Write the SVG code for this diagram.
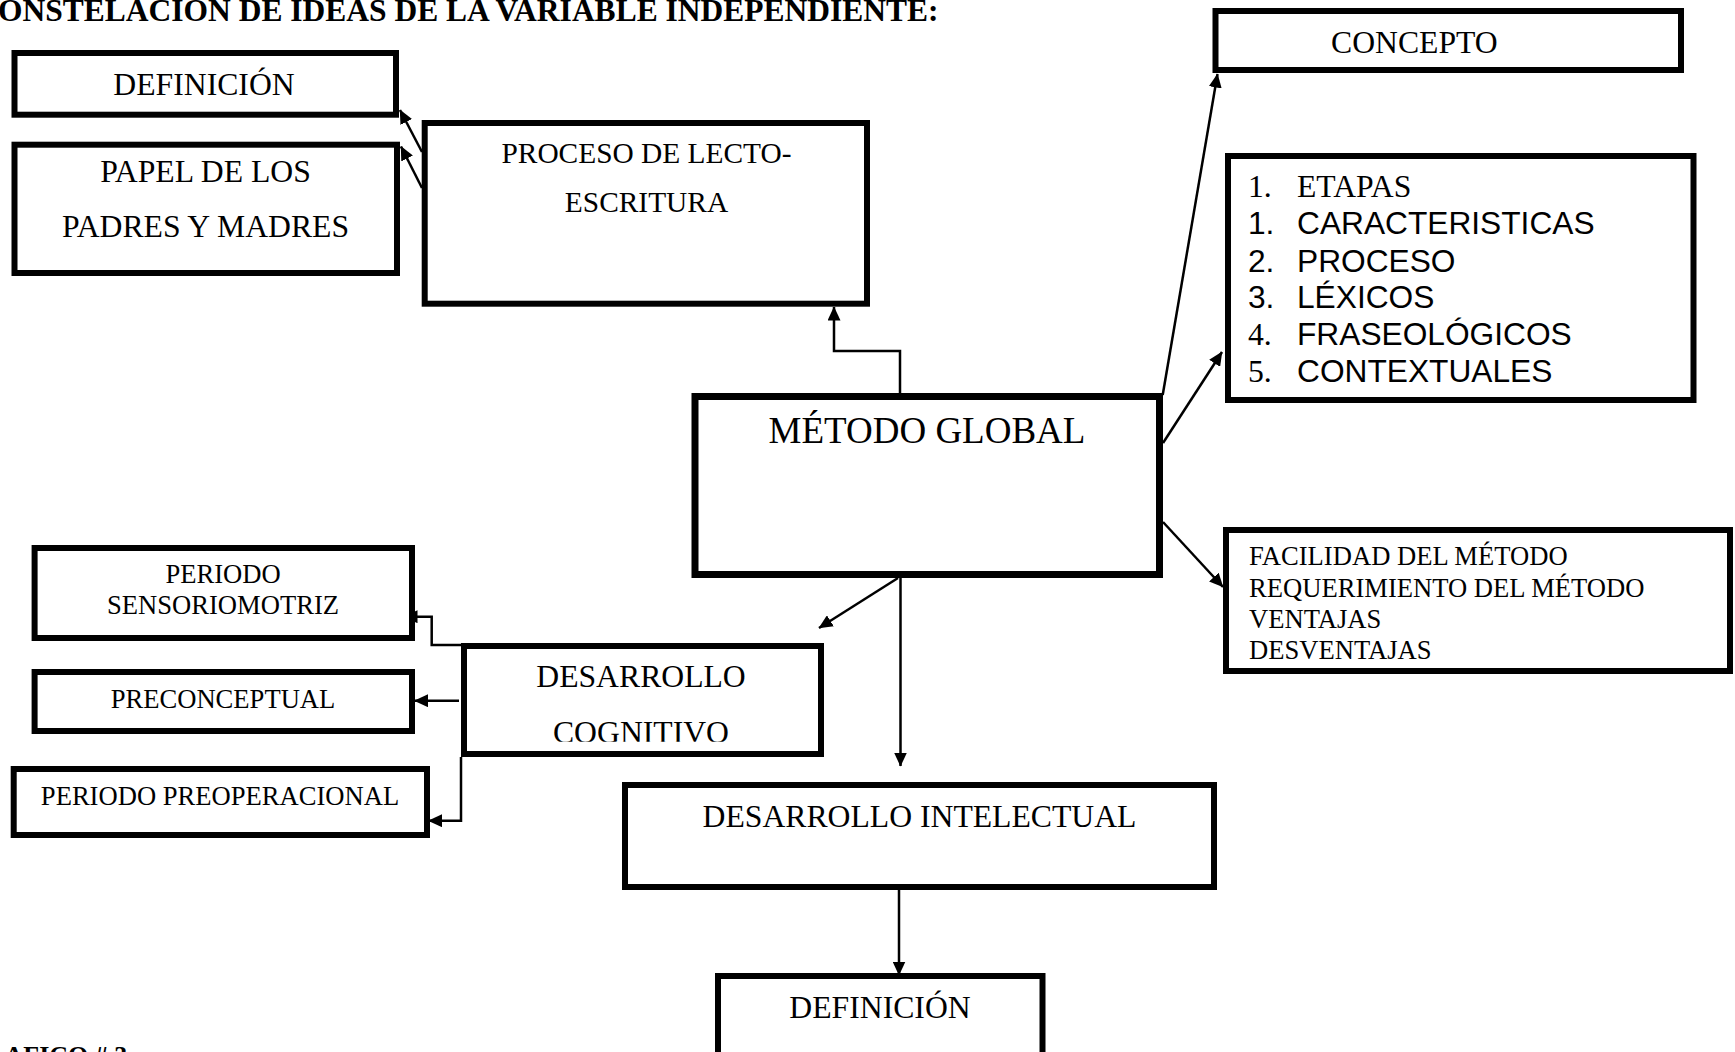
<svg xmlns="http://www.w3.org/2000/svg" width="1735" height="1052" viewBox="0 0 1735 1052">
<style>
.box{fill:#fff;stroke:#000;stroke-width:6}
.t{font-family:"Liberation Serif","Times New Roman",serif;fill:#000}
.s{font-family:"Liberation Sans",Arial,sans-serif;fill:#000}
.big{font-size:31.7px}
.mid{font-size:29.4px}
.sm{font-size:26.6px}
.c{text-anchor:middle}
.b{font-weight:bold}
.con{fill:none;stroke:#000;stroke-width:2.5}
</style>
<defs>
<marker id="ah" markerUnits="userSpaceOnUse" viewBox="0 0 14 13" refX="13.5" refY="6.5" markerWidth="14" markerHeight="13" orient="auto">
<path d="M0,0 L14,6.5 L0,13 z" fill="#000"/>
</marker>
<clipPath id="clipDC"><rect x="464" y="646" width="357" height="95.7"/></clipPath>
</defs>
<rect x="0" y="0" width="1735" height="1052" fill="#fff"/>

<text class="t b" x="-2" y="21" font-size="31.5">ONSTELACION DE IDEAS DE LA VARIABLE INDEPENDIENTE:</text>
<text class="t b" x="4.5" y="1064" font-size="26">AFICO # 3</text>

<g id="connectors">
<path class="con" d="M422,152 L400,110" marker-end="url(#ah)"/>
<path class="con" d="M422,188 L401,146.5" marker-end="url(#ah)"/>
<path class="con" d="M900,393 V351 H834 V307" marker-end="url(#ah)"/>
<path class="con" d="M1162.7,395 L1217.5,74" marker-end="url(#ah)"/>
<path class="con" d="M1163,443 L1222,352" marker-end="url(#ah)"/>
<path class="con" d="M1163,522 L1223,587" marker-end="url(#ah)"/>
<path class="con" d="M898,578 L819,628" marker-end="url(#ah)"/>
<path class="con" d="M900.5,578 V766" marker-end="url(#ah)"/>
<path class="con" d="M899,890 V975" marker-end="url(#ah)"/>
<path class="con" d="M461,645 H431.7 V616.7 H404" marker-end="url(#ah)"/>
<path class="con" d="M459,700.7 H414.5" marker-end="url(#ah)"/>
<path class="con" d="M461,757 V820.7 H428.5" marker-end="url(#ah)"/>
</g>

<g id="n-definicion-top">
<rect class="box" x="14.5" y="53" width="381.5" height="61.7"/>
<text class="t big c" x="204" y="95">DEFINICIÓN</text>
</g>
<g id="n-papel">
<rect class="box" x="14.5" y="144.7" width="382.5" height="128.3"/>
<text class="t big c" x="205.5" y="182">PAPEL DE LOS</text>
<text class="t big c" x="205.5" y="237">PADRES Y MADRES</text>
</g>
<g id="n-proceso">
<rect class="box" x="424.7" y="123" width="442.3" height="180.7"/>
<text class="t mid c" x="646.5" y="163">PROCESO DE LECTO-</text>
<text class="t mid c" x="646.5" y="212">ESCRITURA</text>
</g>
<g id="n-concepto">
<rect class="box" x="1215.5" y="11" width="465.5" height="59"/>
<text class="t big" x="1331" y="53">CONCEPTO</text>
</g>
<g id="n-lista">
<rect class="box" x="1228" y="156" width="465.5" height="244"/>
<text class="t big" x="1248" y="197">1.</text><text class="t big" x="1297" y="197">ETAPAS</text>
<text class="s big" x="1248" y="234">1.</text><text class="s big" x="1297" y="234">CARACTERISTICAS</text>
<text class="s big" x="1248" y="272">2.</text><text class="s big" x="1297" y="272">PROCESO</text>
<text class="s big" x="1248" y="308">3.</text><text class="s big" x="1297" y="308">LÉXICOS</text>
<text class="t big" x="1248" y="345">4.</text><text class="s big" x="1297" y="345">FRASEOLÓGICOS</text>
<text class="t big" x="1248" y="382">5.</text><text class="s big" x="1297" y="382">CONTEXTUALES</text>
</g>
<g id="n-metodo">
<rect class="box" x="695" y="396.5" width="464.5" height="178" style="stroke-width:7"/>
<text class="t c" x="927" y="443" font-size="37">MÉTODO GLOBAL</text>
</g>
<g id="n-facilidad">
<rect class="box" x="1226" y="530" width="504" height="141"/>
<text class="t sm" x="1249" y="565">FACILIDAD DEL MÉTODO</text>
<text class="t sm" x="1249" y="597">REQUERIMIENTO DEL MÉTODO</text>
<text class="t sm" x="1249" y="628">VENTAJAS</text>
<text class="t sm" x="1249" y="659">DESVENTAJAS</text>
</g>
<g id="n-sensoriomotriz">
<rect class="box" x="34.6" y="548" width="377.4" height="90"/>
<text class="t sm c" x="223" y="583">PERIODO</text>
<text class="t sm c" x="223" y="614">SENSORIOMOTRIZ</text>
</g>
<g id="n-preconceptual">
<rect class="box" x="34.6" y="672" width="377.4" height="59"/>
<text class="t sm c" x="223" y="707.7">PRECONCEPTUAL</text>
</g>
<g id="n-preoperacional">
<rect class="box" x="13.7" y="769" width="413.3" height="66"/>
<text class="t sm c" x="220" y="805">PERIODO PREOPERACIONAL</text>
</g>
<g id="n-des-cognitivo">
<rect class="box" x="464" y="646" width="357" height="108"/>
<text class="t big c" x="641" y="687">DESARROLLO</text>
<text class="t big c" x="641" y="743" clip-path="url(#clipDC)">COGNITIVO</text>
</g>
<g id="n-des-intelectual">
<rect class="box" x="625" y="785" width="589" height="102"/>
<text class="t big c" x="919.5" y="826.7">DESARROLLO INTELECTUAL</text>
</g>
<g id="n-definicion-bottom">
<rect class="box" x="718" y="976" width="324.5" height="100"/>
<text class="t big c" x="880" y="1018">DEFINICIÓN</text>
</g>
</svg>
